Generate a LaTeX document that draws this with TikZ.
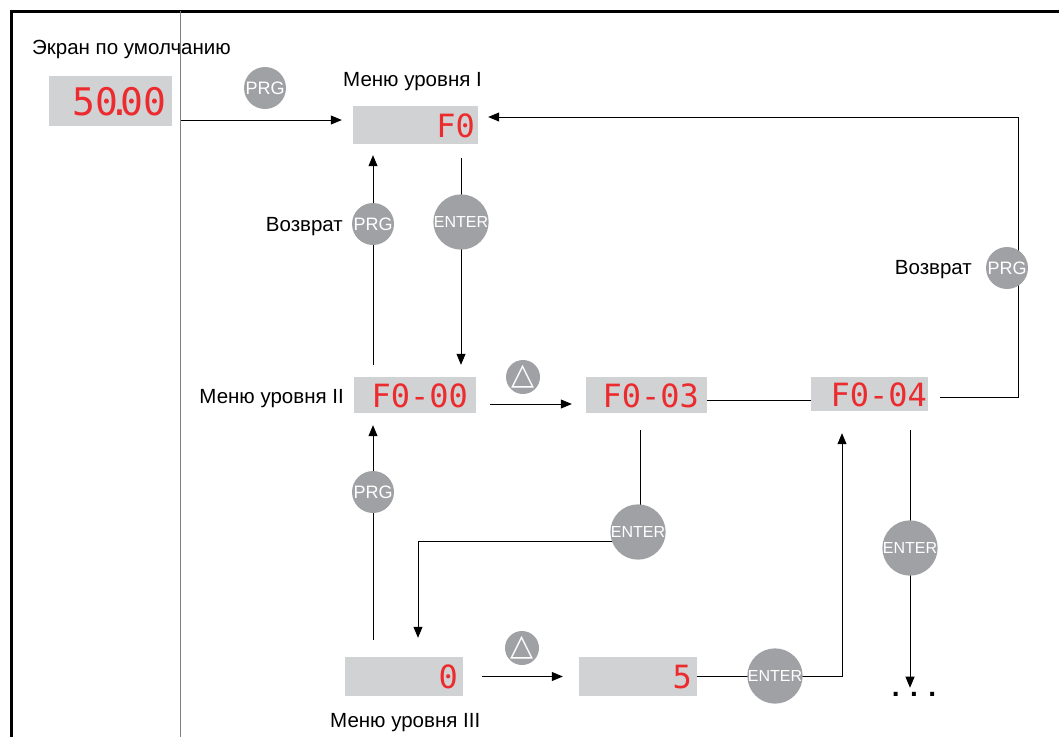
\documentclass[tikz,border=0pt]{standalone}
\usepackage{fontspec}
\setmainfont{Liberation Sans}
\newfontfamily\segfont{DejaVu Sans Mono}
\newfontfamily\symfont{DejaVu Sans}
\usetikzlibrary{arrows.meta,backgrounds}
\definecolor{lcdgray}{HTML}{D1D2D3}
\definecolor{btngray}{HTML}{A0A1A4}
\definecolor{segred}{HTML}{EC2B2E}
\tikzset{
  lcd/.style={fill=lcdgray, inner xsep=5pt, inner ysep=0pt, text height=24pt, text depth=0pt,
    text=segred, font=\segfont\fontsize{32}{32}\selectfont, align=right},
  btn/.style={circle, fill=btngray, text=white, inner sep=0pt},
  prg/.style={btn, minimum size=42pt, font=\fontsize{18}{18}\selectfont},
  enter/.style={btn, minimum size=51pt, font=\fontsize{16}{16}\selectfont},
  upkey/.style={btn, minimum size=34pt, font=\symfont\fontsize{30}{30}\selectfont},
  lbl/.style={font=\fontsize{20.5}{24}\selectfont, inner sep=0pt},
  arr/.style={-{Triangle[length=11pt,width=9pt]}, line width=0.8pt},
  wire/.style={line width=0.8pt},
}

\begin{document}
\begin{tikzpicture}[x=1pt,y=-1pt]
\useasboundingbox (0,0) rectangle (1059,737);
% frame
\draw[line width=3pt] (11,737) -- (11,11) -- (1059,11);
\draw[gray, line width=0.6pt] (180,11) -- (180,737);

% labels
\node[lbl, anchor=base west] (lblDef) at (32,54) {Экран по умолчанию};
\node[lbl, anchor=base west] (lblL1) at (343,86) {Меню уровня I};
\node[lbl, anchor=base east] (lblL2) at (344,403) {Меню уровня II};
\node[lbl, anchor=base west] (lblL3) at (330,727) {Меню уровня III};
\node[lbl, anchor=base east] (backA) at (343,231) {Возврат};
\node[lbl, anchor=base east] (backB) at (972,274) {Возврат};

% displays
\node[lcd, text width=111pt, minimum height=50pt, text height=29pt, inner xsep=6pt,
  font=\segfont\fontsize{38}{38}\selectfont] (disp50) at (110.5,101) {50\kern-0.28em.\kern-0.28em00};
\node[lcd, text width=119pt, minimum height=38pt, inner xsep=3pt] (F0) at (415.5,125) {F0};
\node[lcd, text width=106pt, minimum height=36pt, inner xsep=8pt] (F000) at (415,395) {F0-00};
\node[lcd, text width=105pt, minimum height=36pt, inner xsep=8pt] (F003) at (646.5,395) {F0-03};
\node[lcd, text width=115pt, minimum height=34pt, inner xsep=1pt] (F004) at (869.5,394) {F0-04};
\node[lcd, text width=108pt, minimum height=39pt] (box0) at (404,676.5) {0};
\node[lcd, text width=108pt, minimum height=39pt] (box5) at (638,676.5) {5};
\node[font=\bfseries\fontsize{28}{28}\selectfont, inner sep=0pt] (more) at (914,694) {. . .};

% keys
\node[prg] (prgA) at (265,88) {PRG};
\node[prg] (prgB) at (373,224) {PRG};
\node[prg] (prgC) at (1007,268) {PRG};
\node[prg] (prgD) at (373,492) {PRG};
\node[enter] (enterA) at (461,222) {ENTER};
\node[enter] (enterB) at (638,532) {ENTER};
\node[enter] (enterC) at (910,548) {ENTER};
\node[enter] (enterD) at (775,676) {ENTER};
\node[upkey] (upA) at (523,377) {△};
\node[upkey] (upB) at (522,648) {△};
\coordinate (rt) at (1018,117);

\begin{pgfonlayer}{background}
\draw[arr] ([xshift=8pt,yshift=-19pt]disp50.east) -- ([xshift=-11pt,yshift=5pt]F0.west);
\draw[arr] ([xshift=12pt,yshift=-3pt]F004.east) -| (rt) -- ([xshift=10pt]F0.east |- rt);
\draw[arr] ([yshift=-14pt]F0.south -| enterA) -- ([yshift=12pt]F000.north -| enterA);
\draw[arr] ([yshift=12pt]F000.north -| prgB) -- ([yshift=-11pt]F0.south -| prgB);
\draw[arr] ([xshift=14pt,yshift=-9pt]F000.east) -- ([xshift=-14pt,yshift=-9pt]F003.west);
\draw[wire] ([yshift=-5pt]F003.east) -- ([yshift=-6pt]F004.west);
\draw[arr] ([xshift=-6.5pt,yshift=-17pt]F003.south) -- ++(0,111) -| ([xshift=14pt,yshift=19pt]box0.north);
\draw[arr] ([yshift=17pt]box0.north -| prgD) -- ([yshift=-12pt]F000.south -| prgD);
\draw[arr] ([xshift=19pt]box0.east) -- ([xshift=-16pt]box5.west);
\draw[arr] (box5.east) -| ([xshift=-27.5pt,yshift=-22pt]F004.south);
\draw[arr] ([xshift=40.5pt,yshift=-19pt]F004.south) -- ([yshift=4pt]more.north -| enterC);
\end{pgfonlayer}
\end{tikzpicture}
\end{document}
